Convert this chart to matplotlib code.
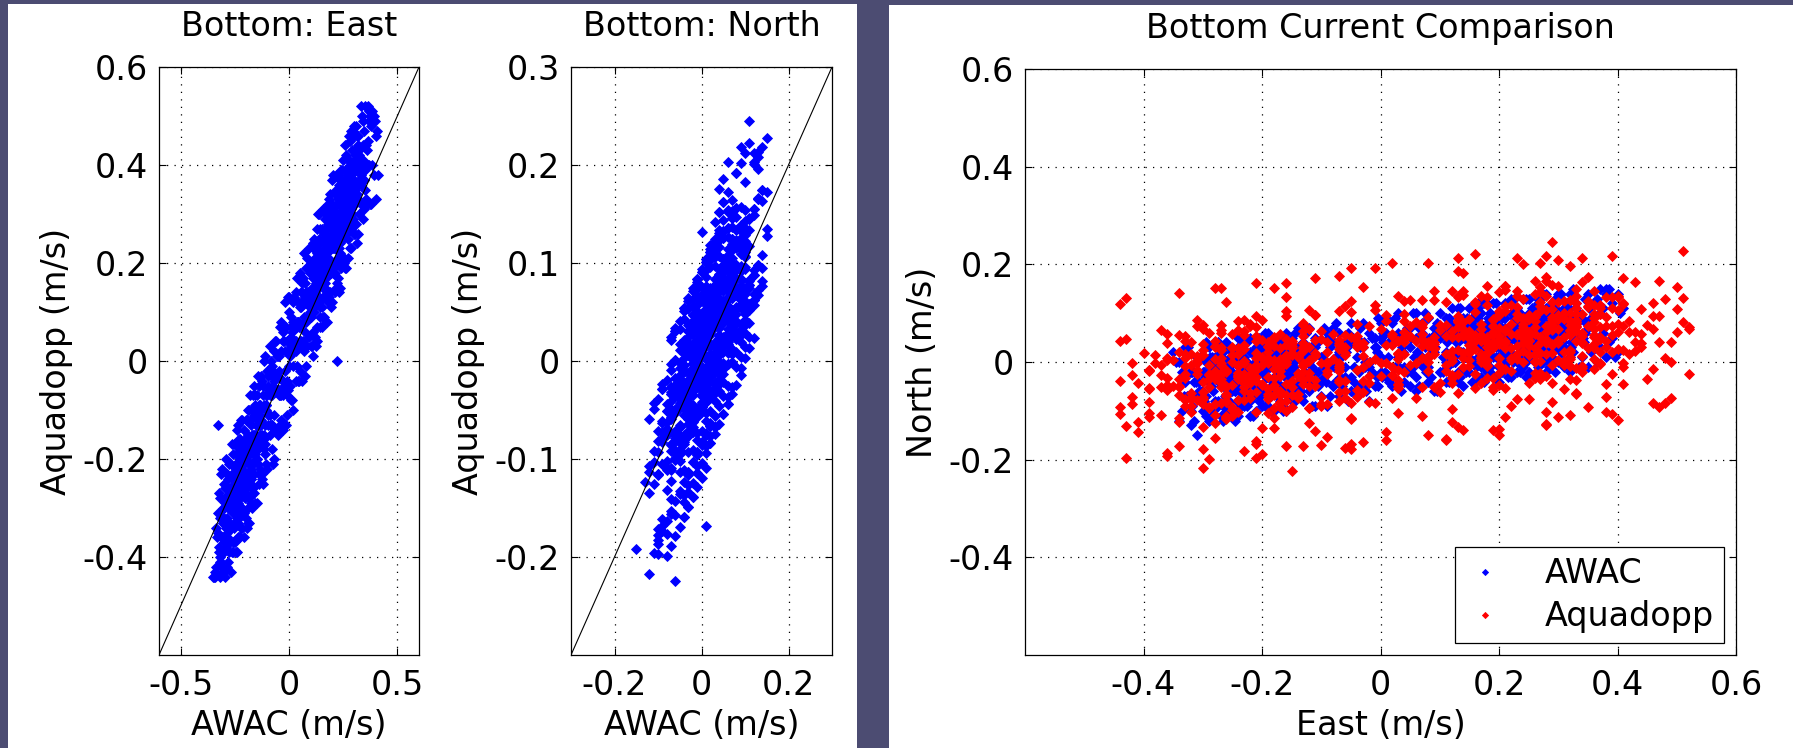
import matplotlib.pyplot as plt
from matplotlib.patches import Rectangle
from matplotlib.ticker import FormatStrFormatter

plt.rcParams['font.family'] = ['DejaVu Sans']
plt.rcParams['axes.unicode_minus'] = False

awac_east = [
    -0.35, -0.34, -0.34, -0.33, -0.33, -0.32, -0.32, -0.32, -0.31, -0.31,
    -0.31, -0.30, -0.30, -0.30, -0.29, -0.29, -0.29, -0.28, -0.28, -0.28,
    -0.28, -0.27, -0.27, -0.27, -0.27, -0.26, -0.26, -0.26, -0.26, -0.26,
    -0.25, -0.25, -0.25, -0.25, -0.24, -0.24, -0.24, -0.24, -0.24, -0.24,
    -0.23, -0.23, -0.23, -0.23, -0.23, -0.22, -0.22, -0.22, -0.22, -0.22,
    -0.22, -0.21, -0.21, -0.21, -0.21, -0.21, -0.20, -0.20, -0.20, -0.20,
    -0.20, -0.19, -0.19, -0.19, -0.19, -0.19, -0.18, -0.18, -0.18, -0.18,
    -0.17, -0.17, -0.17, -0.17, -0.17, -0.16, -0.16, -0.16, -0.16, -0.16,
    -0.15, -0.15, -0.15, -0.15, -0.15, -0.14, -0.14, -0.14, -0.14, -0.14,
    -0.13, -0.13, -0.13, -0.12, -0.12, -0.12, -0.12, -0.11, -0.11, -0.11,
    -0.11, -0.10, -0.10, -0.10, -0.09, -0.09, -0.09, -0.08, -0.08, -0.08,
    -0.08, -0.07, -0.07, -0.07, -0.06, -0.06, -0.06, -0.05, -0.05, -0.05,
    -0.05, -0.04, -0.04, -0.04, -0.03, -0.03, -0.03, -0.02, -0.02, -0.02,
    -0.01, -0.01, -0.01, 0.00, 0.00, 0.00, 0.00, 0.01, 0.01, 0.01,
    0.02, 0.02, 0.02, 0.02, 0.03, 0.03, 0.03, 0.03, 0.04, 0.04,
    0.04, 0.05, 0.05, 0.05, 0.06, 0.06, 0.06, 0.06, 0.07, 0.07,
    0.07, 0.08, 0.08, 0.08, 0.08, 0.09, 0.09, 0.09, 0.10, 0.10,
    0.10, 0.10, 0.11, 0.11, 0.11, 0.11, 0.11, 0.12, 0.12, 0.12,
    0.12, 0.13, 0.13, 0.13, 0.13, 0.13, 0.14, 0.14, 0.14, 0.14,
    0.15, 0.15, 0.15, 0.15, 0.15, 0.16, 0.16, 0.16, 0.16, 0.16,
    0.17, 0.17, 0.17, 0.17, 0.17, 0.18, 0.18, 0.18, 0.18, 0.18,
    0.19, 0.19, 0.19, 0.19, 0.19, 0.20, 0.20, 0.20, 0.20, 0.20,
    0.21, 0.21, 0.21, 0.21, 0.21, 0.22, 0.22, 0.22, 0.22, 0.22,
    0.23, 0.23, 0.23, 0.23, 0.23, 0.24, 0.24, 0.24, 0.24, 0.24,
    0.25, 0.25, 0.25, 0.25, 0.25, 0.26, 0.26, 0.26, 0.26, 0.26,
    0.27, 0.27, 0.27, 0.27, 0.27, 0.28, 0.28, 0.28, 0.28, 0.28,
    0.29, 0.29, 0.29, 0.29, 0.29, 0.30, 0.30, 0.30, 0.30, 0.30,
    0.31, 0.31, 0.31, 0.31, 0.32, 0.32, 0.32, 0.32, 0.33, 0.33,
    0.33, 0.34, 0.34, 0.34, 0.35, 0.35, 0.35, 0.36, 0.36, 0.37,
    0.37, 0.37, 0.38, 0.38, 0.38, 0.39, 0.39, 0.40, 0.40, 0.41,
    -0.345, -0.335, -0.335, -0.325, -0.325, -0.315, -0.315, -0.305, -0.305, -0.295,
    -0.295, -0.285, -0.285, -0.285, -0.275, -0.275, -0.275, -0.265, -0.265, -0.265,
    -0.255, -0.255, -0.255, -0.245, -0.245, -0.245, -0.245, -0.235, -0.235, -0.235,
    -0.235, -0.225, -0.225, -0.225, -0.225, -0.215, -0.215, -0.215, -0.215, -0.205,
    -0.205, -0.205, -0.195, -0.195, -0.195, -0.185, -0.185, -0.185, -0.175, -0.175,
    -0.175, -0.165, -0.165, -0.165, -0.155, -0.155, -0.155, -0.145, -0.145, -0.145,
    -0.135, -0.135, -0.125, -0.125, -0.125, -0.115, -0.115, -0.105, -0.105, -0.095,
    -0.095, -0.085, -0.085, -0.075, -0.075, -0.065, -0.065, -0.055, -0.055, -0.045,
    -0.045, -0.035, -0.035, -0.025, -0.025, -0.015, -0.015, -0.005, -0.005, 0.005,
    0.005, 0.015, 0.015, 0.025, 0.025, 0.035, 0.035, 0.045, 0.045, 0.055,
    0.055, 0.065, 0.065, 0.075, 0.075, 0.085, 0.085, 0.095, 0.095, 0.105,
    0.105, 0.115, 0.115, 0.115, 0.125, 0.125, 0.125, 0.135, 0.135, 0.135,
    0.145, 0.145, 0.145, 0.145, 0.155, 0.155, 0.155, 0.155, 0.155, 0.165,
    0.165, 0.165, 0.165, 0.175, 0.175, 0.175, 0.175, 0.175, 0.185, 0.185,
    0.185, 0.185, 0.185, 0.195, 0.195, 0.195, 0.195, 0.195, 0.205, 0.205,
    0.205, 0.205, 0.215, 0.215, 0.215, 0.215, 0.225, 0.225, 0.225, 0.225,
    0.235, 0.235, 0.235, 0.235, 0.245, 0.245, 0.245, 0.245, 0.255, 0.255,
    0.255, 0.255, 0.265, 0.265, 0.265, 0.265, 0.275, 0.275, 0.275, 0.275,
    0.285, 0.285, 0.285, 0.285, 0.295, 0.295, 0.295, 0.295, 0.305, 0.305,
    0.305, 0.315, 0.315, 0.315, 0.325, 0.325, 0.335, 0.335, 0.345, 0.345,
    0.355, 0.355, 0.365, 0.365, 0.375, 0.375, 0.385, 0.385, 0.395, 0.405,
    -0.315, -0.305, -0.295, -0.285, -0.275, -0.265, -0.255, -0.245, -0.235, -0.225,
    -0.215, -0.205, -0.195, -0.185, -0.175, -0.165, -0.155, -0.145, -0.135, -0.125,
    0.125, 0.145, 0.165, 0.185, 0.205, 0.225, 0.245, 0.265, 0.285, 0.305,
    -0.332, -0.322, -0.318, -0.312, -0.308, -0.302, -0.298, -0.292, -0.288, -0.282,
    -0.278, -0.272, -0.268, -0.262, -0.258, -0.252, -0.248, -0.242, -0.238, -0.232,
    -0.228, -0.222, -0.218, -0.212, -0.208, -0.202, -0.198, -0.192, -0.188, -0.182,
    -0.178, -0.172, -0.168, -0.162, -0.158, -0.152, -0.148, -0.142, -0.138, -0.132,
    -0.128, -0.118, -0.108, -0.098, -0.088, -0.078, -0.068, -0.058, -0.048, -0.038,
    -0.028, -0.018, -0.008, 0.002, 0.012, 0.022, 0.032, 0.042, 0.052, 0.062,
    0.072, 0.082, 0.092, 0.102, 0.108, 0.112, 0.118, 0.122, 0.128, 0.132,
    0.138, 0.142, 0.148, 0.152, 0.158, 0.162, 0.168, 0.172, 0.178, 0.182,
    0.188, 0.192, 0.198, 0.202, 0.208, 0.212, 0.218, 0.222, 0.228, 0.232,
    0.238, 0.242, 0.248, 0.252, 0.258, 0.262, 0.268, 0.272, 0.278, 0.282,
    0.288, 0.292, 0.298, 0.302, 0.308, 0.312, 0.318, 0.322, 0.332, 0.342,
    -0.318, -0.302, -0.288, -0.272, -0.258, -0.242, -0.228, -0.212, -0.198, -0.182,
    -0.268, -0.252, -0.238, -0.222, -0.208, -0.192, -0.178, -0.162, -0.148, -0.132,
    0.152, 0.168, 0.182, 0.198, 0.212, 0.228, 0.242, 0.258, 0.272, 0.288,
    0.118, 0.132, 0.148, 0.162, 0.178, 0.192, 0.208, 0.222, 0.238, 0.252,
    -0.298, -0.282, -0.268, -0.252, -0.238, -0.222, -0.208, -0.192, -0.178, -0.162,
    0.172, 0.188, 0.202, 0.218, 0.232, 0.248, 0.262, 0.278, 0.292, 0.308,
    -0.212, -0.198, -0.182, -0.168, -0.152, -0.138, -0.122, -0.108, -0.092, -0.078,
    0.008, 0.022, 0.038, 0.052, 0.068, 0.082, 0.098, 0.112, 0.128, 0.142,
    0.202, 0.218, 0.232, 0.248, 0.262, 0.278, 0.292, 0.308, 0.322, 0.352,
    -0.326, -0.314, -0.306, -0.294, -0.286, -0.274, -0.266, -0.254, -0.246, -0.234,
    -0.226, -0.214, -0.206, -0.194, -0.186, -0.174, -0.166, -0.154, -0.146, -0.134,
    -0.296, -0.276, -0.256, -0.236, -0.216, -0.196, -0.176, -0.156, -0.136, -0.116,
    -0.106, -0.086, -0.066, -0.046, -0.026, -0.006, 0.014, 0.034, 0.054, 0.074,
    0.094, 0.114, 0.134, 0.154, 0.174, 0.194, 0.214, 0.234, 0.254, 0.274,
    0.126, 0.146, 0.166, 0.186, 0.206, 0.226, 0.246, 0.266, 0.286, 0.306,
    0.136, 0.156, 0.176, 0.196, 0.216, 0.236, 0.256, 0.276, 0.296, 0.316,
    -0.284, -0.264, -0.244, -0.224, -0.204, -0.184, -0.164, -0.144, -0.124, -0.104,
    0.164, 0.184, 0.204, 0.224, 0.244, 0.264, 0.284, 0.304, 0.324, 0.344,
    -0.254, -0.236, -0.224, -0.206, -0.194, -0.176, -0.164, -0.146, -0.134, -0.116,
    0.106, 0.124, 0.144, 0.164, 0.184, 0.204, 0.224, 0.244, 0.264, 0.284,
    -0.066, -0.046, -0.026, -0.006, 0.016, 0.036, 0.056, 0.076, 0.096, 0.116,
    -0.306, -0.284, -0.264, -0.244, -0.224, -0.204, -0.184, -0.164, -0.144, -0.124,
    0.186, 0.204, 0.226, 0.244, 0.266, 0.284, 0.306, 0.324, 0.346, 0.366,
    -0.214, -0.196, -0.176, -0.156, -0.136, -0.116, -0.096, -0.076, -0.056, -0.036,
]
aqua_east = [
    -0.44, -0.43, -0.44, -0.13, -0.31, -0.44, -0.28, -0.41, -0.22, -0.36,
    -0.42, -0.30, -0.43, -0.25, -0.34, -0.20, -0.38, -0.30, -0.41, -0.24,
    -0.26, -0.34, -0.21, -0.43, -0.27, -0.37, -0.19, -0.30, -0.23, -0.39,
    -0.26, -0.37, -0.17, -0.31, -0.21, -0.39, -0.19, -0.32, -0.14, -0.28,
    -0.32, -0.21, -0.36, -0.16, -0.27, -0.12, -0.30, -0.23, -0.34, -0.17,
    -0.19, -0.27, -0.14, -0.36, -0.20, -0.31, -0.12, -0.23, -0.16, -0.32,
    -0.20, -0.30, -0.10, -0.24, -0.15, -0.33, -0.12, -0.25, -0.07, -0.21,
    -0.26, -0.15, -0.30, -0.10, -0.21, -0.05, -0.23, -0.16, -0.27, -0.10,
    -0.11, -0.20, -0.07, -0.29, -0.13, -0.23, -0.05, -0.16, -0.09, -0.25,
    -0.12, -0.23, -0.03, -0.16, -0.07, -0.25, -0.05, -0.17, 0.01, -0.13,
    -0.19, -0.07, -0.22, -0.02, -0.11, 0.03, -0.15, -0.07, -0.18, -0.01,
    -0.03, -0.11, 0.02, -0.20, -0.03, -0.14, 0.04, -0.06, 0.01, -0.15,
    -0.03, -0.13, 0.07, -0.07, 0.04, -0.14, 0.06, -0.06, 0.12, -0.02,
    -0.07, 0.04, -0.11, 0.10, -0.01, 0.13, -0.05, 0.03, -0.08, 0.09,
    0.08, -0.01, 0.12, -0.10, 0.07, -0.04, 0.14, 0.03, 0.12, -0.04,
    0.08, -0.02, 0.18, 0.04, 0.14, -0.04, 0.16, 0.03, 0.22, 0.08,
    0.02, 0.14, -0.01, 0.19, 0.08, 0.23, 0.05, 0.12, 0.03, 0.20,
    0.18, 0.09, 0.23, 0.01, 0.17, 0.06, 0.24, 0.14, 0.21, 0.05,
    0.17, 0.07, 0.27, 0.13, 0.22, 0.04, 0.25, 0.12, 0.30, 0.16,
    0.11, 0.22, 0.07, 0.27, 0.16, 0.31, 0.13, 0.20, 0.09, 0.26,
    0.26, 0.17, 0.30, 0.08, 0.24, 0.14, 0.32, 0.21, 0.28, 0.12,
    0.25, 0.14, 0.34, 0.20, 0.29, 0.12, 0.32, 0.19, 0.37, 0.23,
    0.18, 0.29, 0.14, 0.34, 0.23, 0.38, 0.20, 0.27, 0.16, 0.00,
    0.32, 0.23, 0.36, 0.14, 0.30, 0.21, 0.39, 0.28, 0.35, 0.19,
    0.32, 0.21, 0.41, 0.27, 0.36, 0.19, 0.39, 0.26, 0.44, 0.30,
    0.25, 0.36, 0.21, 0.41, 0.30, 0.45, 0.27, 0.34, 0.23, 0.40,
    0.39, 0.30, 0.43, 0.29, 0.37, 0.28, 0.46, 0.35, 0.48, 0.26,
    0.39, 0.28, 0.48, 0.34, 0.44, 0.26, 0.46, 0.33, 0.52, 0.38,
    0.32, 0.44, 0.29, 0.49, 0.39, 0.52, 0.35, 0.43, 0.32, 0.51,
    0.49, 0.40, 0.51, 0.32, 0.48, 0.38, 0.50, 0.46, 0.33, 0.38,
    -0.44, -0.34, -0.42, -0.27, -0.38, -0.23, -0.41, -0.33, -0.43, -0.26,
    -0.28, -0.36, -0.23, -0.42, -0.28, -0.39, -0.21, -0.30, -0.23, -0.39,
    -0.26, -0.37, -0.17, -0.30, -0.21, -0.39, -0.19, -0.31, -0.13, -0.27,
    -0.33, -0.21, -0.36, -0.16, -0.27, -0.12, -0.30, -0.23, -0.34, -0.16,
    -0.18, -0.27, -0.12, -0.34, -0.18, -0.28, -0.10, -0.21, -0.13, -0.29,
    -0.17, -0.27, -0.07, -0.21, -0.11, -0.29, -0.09, -0.21, -0.03, -0.17,
    -0.22, -0.11, -0.24, -0.04, -0.15, 0.00, -0.18, -0.10, -0.21, -0.03,
    -0.05, -0.13, 0.00, -0.21, -0.05, -0.14, 0.04, -0.06, 0.01, -0.14,
    -0.02, -0.12, 0.08, -0.05, 0.04, -0.13, 0.07, -0.05, 0.13, 0.01,
    -0.05, 0.07, -0.08, 0.13, 0.02, 0.17, -0.01, 0.07, -0.04, 0.14,
    0.12, 0.04, 0.17, -0.03, 0.13, 0.03, 0.21, 0.11, 0.18, 0.03,
    0.15, 0.05, 0.25, 0.11, 0.21, 0.03, 0.23, 0.12, 0.30, 0.16,
    0.11, 0.22, 0.07, 0.27, 0.17, 0.31, 0.13, 0.20, 0.09, 0.27,
    0.25, 0.16, 0.29, 0.08, 0.24, 0.13, 0.31, 0.20, 0.28, 0.12,
    0.24, 0.13, 0.33, 0.20, 0.29, 0.11, 0.31, 0.18, 0.38, 0.24,
    0.18, 0.29, 0.15, 0.35, 0.24, 0.38, 0.21, 0.28, 0.17, 0.34,
    0.33, 0.24, 0.37, 0.15, 0.32, 0.21, 0.39, 0.28, 0.36, 0.20,
    0.32, 0.21, 0.42, 0.28, 0.37, 0.19, 0.41, 0.28, 0.46, 0.32,
    0.27, 0.38, 0.23, 0.28, 0.33, 0.47, 0.29, 0.36, 0.26, 0.43,
    0.41, 0.33, 0.46, 0.24, 0.41, 0.30, 0.50, 0.39, 0.47, 0.31,
    0.44, 0.33, 0.52, 0.40, 0.50, 0.32, 0.51, 0.40, 0.49, 0.47,
    -0.42, -0.30, -0.44, -0.23, -0.33, -0.17, -0.34, -0.26, -0.36, -0.18,
    -0.19, -0.27, -0.12, -0.33, -0.16, -0.26, -0.07, -0.17, -0.09, -0.23,
    0.17, 0.09, 0.31, 0.19, 0.31, 0.15, 0.37, 0.26, 0.47, 0.35,
    -0.36, -0.39, -0.32, -0.36, -0.32, -0.39, -0.30, -0.33, -0.34, -0.26,
    -0.33, -0.27, -0.34, -0.28, -0.24, -0.29, -0.31, -0.25, -0.22, -0.31,
    -0.22, -0.26, -0.22, -0.27, -0.23, -0.18, -0.24, -0.16, -0.24, -0.19,
    -0.23, -0.17, -0.18, -0.15, -0.19, -0.15, -0.11, -0.18, -0.13, -0.15,
    -0.13, -0.16, -0.07, -0.11, -0.07, -0.13, -0.04, -0.06, -0.07, 0.02,
    -0.04, 0.02, -0.04, 0.02, 0.07, 0.03, 0.02, 0.08, 0.11, 0.03,
    0.12, 0.09, 0.14, 0.09, 0.13, 0.18, 0.13, 0.20, 0.13, 0.17,
    0.13, 0.19, 0.18, 0.21, 0.17, 0.21, 0.25, 0.18, 0.23, 0.21,
    0.24, 0.20, 0.28, 0.23, 0.27, 0.20, 0.29, 0.27, 0.25, 0.33,
    0.26, 0.32, 0.26, 0.31, 0.36, 0.30, 0.29, 0.34, 0.37, 0.28,
    0.37, 0.34, 0.37, 0.32, 0.36, 0.41, 0.36, 0.43, 0.36, 0.41,
    -0.40, -0.32, -0.32, -0.27, -0.31, -0.26, -0.20, -0.26, -0.20, -0.21,
    -0.29, -0.31, -0.22, -0.26, -0.21, -0.26, -0.16, -0.18, -0.18, -0.09,
    0.16, 0.23, 0.18, 0.25, 0.30, 0.26, 0.26, 0.33, 0.36, 0.29,
    0.18, 0.15, 0.20, 0.16, 0.21, 0.27, 0.23, 0.32, 0.25, 0.31,
    -0.37, -0.29, -0.30, -0.25, -0.28, -0.24, -0.18, -0.24, -0.17, -0.19,
    0.22, 0.20, 0.28, 0.25, 0.30, 0.25, 0.34, 0.33, 0.33, 0.41,
    -0.25, -0.19, -0.24, -0.17, -0.11, -0.16, -0.16, -0.09, -0.06, -0.13,
    0.05, 0.03, 0.07, 0.03, 0.09, 0.14, 0.10, 0.19, 0.13, 0.18,
    0.20, 0.28, 0.28, 0.33, 0.29, 0.34, 0.40, 0.33, 0.40, 0.40,
    -0.35, -0.39, -0.33, -0.28, -0.34, -0.37, -0.27, -0.29, -0.23, -0.29,
    -0.28, -0.23, -0.17, -0.23, -0.17, -0.24, -0.18, -0.13, -0.20, -0.12,
    -0.29, -0.33, -0.33, -0.24, -0.24, -0.19, -0.22, -0.11, -0.16, -0.16,
    -0.09, -0.13, -0.06, 0.01, -0.04, -0.06, 0.06, 0.04, 0.11, 0.06,
    0.09, 0.15, 0.22, 0.17, 0.24, 0.18, 0.26, 0.32, 0.26, 0.35,
    0.19, 0.16, 0.15, 0.24, 0.25, 0.30, 0.26, 0.38, 0.33, 0.32,
    0.19, 0.15, 0.22, 0.29, 0.24, 0.22, 0.33, 0.32, 0.39, 0.34,
    -0.35, -0.28, -0.21, -0.27, -0.19, -0.25, -0.18, -0.12, -0.17, -0.09,
    0.24, 0.20, 0.19, 0.29, 0.29, 0.34, 0.31, 0.42, 0.37, 0.37,
    -0.26, -0.30, -0.24, -0.18, -0.23, -0.25, -0.15, -0.17, -0.10, -0.15,
    0.10, 0.16, 0.24, 0.18, 0.25, 0.19, 0.27, 0.33, 0.27, 0.36,
    -0.03, -0.06, -0.07, 0.02, 0.03, 0.08, 0.04, 0.16, 0.11, 0.10,
    -0.32, -0.36, -0.28, -0.22, -0.27, -0.28, -0.17, -0.19, -0.12, -0.16,
    0.19, 0.25, 0.33, 0.27, 0.35, 0.29, 0.36, 0.42, 0.37, 0.45,
    -0.20, -0.24, -0.24, -0.15, -0.15, -0.09, -0.13, -0.02, -0.06, -0.07,
]
awac_north = [
    0.02, 0.00, -0.12, -0.04, 0.03, -0.10, -0.02, -0.13, 0.01, -0.15,
    0.00, -0.10, -0.02, -0.07, 0.03, -0.12, -0.04, 0.01, -0.08, 0.04,
    -0.09, -0.02, 0.02, -0.11, -0.05, 0.00, -0.07, 0.04, -0.10, -0.01,
    -0.06, 0.02, -0.10, -0.02, 0.05, -0.08, 0.00, -0.11, 0.03, -0.04,
    0.01, -0.09, -0.01, -0.06, 0.04, -0.11, -0.03, 0.02, -0.07, 0.05,
    -0.08, -0.01, 0.03, -0.10, -0.04, 0.01, -0.06, 0.05, -0.09, 0.00,
    -0.05, 0.03, -0.09, -0.01, 0.06, -0.07, 0.01, -0.10, 0.04, -0.03,
    0.02, -0.08, 0.00, -0.05, 0.05, -0.10, -0.02, 0.03, -0.06, 0.06,
    -0.06, 0.01, 0.05, -0.08, -0.02, 0.03, -0.04, 0.07, -0.07, 0.02,
    -0.04, 0.04, -0.08, 0.00, 0.07, -0.06, 0.02, -0.09, 0.05, -0.02,
    0.03, -0.07, 0.01, -0.04, 0.06, -0.09, -0.01, 0.04, -0.05, 0.07,
    -0.05, 0.02, 0.06, -0.07, -0.01, 0.04, -0.03, 0.08, -0.06, -0.06,
    -0.03, 0.05, -0.07, 0.01, 0.08, -0.05, 0.03, -0.08, 0.06, -0.01,
    0.05, -0.05, 0.03, -0.02, 0.08, 0.05, 0.01, 0.06, -0.03, 0.09,
    -0.03, 0.04, 0.08, -0.05, 0.01, 0.06, -0.01, 0.10, -0.04, 0.05,
    -0.01, 0.07, -0.05, 0.03, 0.10, -0.03, 0.05, -0.06, 0.08, 0.01,
    0.06, -0.04, 0.04, -0.01, 0.09, -0.06, 0.02, 0.07, -0.02, 0.10,
    -0.02, 0.05, 0.09, -0.04, 0.02, 0.07, 0.00, 0.11, -0.03, 0.06,
    0.00, 0.08, -0.04, 0.04, 0.11, -0.02, 0.06, -0.05, 0.09, 0.02,
    0.08, -0.02, 0.06, 0.01, 0.11, -0.04, 0.04, 0.09, 0.00, 0.12,
    -0.01, 0.06, 0.10, -0.03, 0.03, 0.08, 0.01, 0.12, -0.02, 0.07,
    0.01, 0.09, -0.03, 0.05, 0.12, -0.01, 0.07, -0.04, 0.10, 0.03,
    0.09, -0.01, 0.07, 0.02, 0.12, -0.03, 0.05, 0.10, 0.01, 0.13,
    0.00, 0.07, 0.11, -0.02, 0.04, 0.09, 0.02, 0.13, -0.01, 0.08,
    0.02, 0.10, -0.02, 0.06, 0.13, 0.00, 0.08, -0.03, 0.11, 0.04,
    0.10, 0.00, 0.08, 0.03, 0.13, -0.02, 0.06, 0.11, 0.02, 0.14,
    0.01, 0.08, 0.12, 0.11, 0.05, 0.10, 0.03, 0.14, 0.00, 0.09,
    0.03, 0.11, -0.01, 0.07, 0.14, 0.01, 0.09, -0.02, 0.12, 0.05,
    0.11, 0.01, 0.09, 0.04, 0.14, -0.01, 0.07, 0.12, 0.03, 0.15,
    0.03, 0.10, 0.14, 0.01, 0.15, 0.12, 0.05, 0.14, 0.02, 0.11,
    0.00, -0.10, -0.02, -0.07, 0.03, -0.12, -0.04, 0.01, -0.08, 0.04,
    -0.07, 0.01, -0.11, -0.03, 0.04, -0.09, -0.01, -0.12, 0.02, -0.05,
    -0.08, -0.01, 0.03, -0.10, -0.04, 0.01, -0.06, 0.05, -0.09, 0.00,
    0.01, -0.09, -0.01, -0.06, 0.04, -0.11, -0.03, 0.02, -0.07, 0.05,
    -0.05, 0.03, -0.09, -0.01, 0.06, -0.07, 0.01, -0.10, 0.04, -0.03,
    -0.07, 0.00, 0.04, -0.09, -0.03, 0.02, -0.05, 0.06, -0.08, 0.01,
    0.03, -0.07, 0.01, -0.04, 0.06, -0.09, -0.01, 0.04, -0.05, 0.07,
    -0.03, 0.05, -0.07, 0.01, 0.08, -0.05, 0.03, -0.08, 0.06, -0.01,
    -0.04, 0.03, 0.07, -0.06, 0.00, 0.05, -0.02, 0.09, -0.05, 0.04,
    0.06, -0.04, 0.04, -0.01, 0.09, -0.06, 0.02, 0.07, -0.02, 0.10,
    -0.01, 0.07, -0.05, 0.03, 0.10, -0.03, 0.05, -0.06, 0.08, 0.01,
    -0.02, 0.05, 0.09, -0.04, 0.02, 0.07, 0.00, 0.11, -0.03, 0.06,
    0.08, -0.02, 0.06, 0.01, 0.11, -0.04, 0.04, 0.09, 0.00, 0.12,
    0.01, 0.09, -0.03, 0.05, 0.12, -0.01, 0.07, -0.04, 0.10, 0.03,
    -0.01, 0.06, 0.10, -0.03, 0.03, 0.08, 0.01, 0.12, -0.02, 0.07,
    0.09, -0.01, 0.07, 0.02, 0.12, -0.03, 0.05, 0.10, 0.01, 0.13,
    0.02, 0.10, -0.02, 0.06, 0.13, 0.00, 0.08, -0.03, 0.11, 0.04,
    0.01, 0.08, 0.12, -0.01, 0.05, 0.10, 0.03, 0.14, 0.00, 0.09,
    0.10, 0.00, 0.08, 0.09, 0.13, -0.02, 0.06, 0.11, 0.02, 0.14,
    0.04, 0.12, 0.00, 0.08, 0.15, 0.02, 0.10, -0.01, 0.13, 0.06,
    0.02, 0.09, 0.13, 0.00, 0.06, 0.11, 0.04, 0.15, 0.01, 0.10,
    -0.07, 0.01, -0.11, -0.03, 0.04, -0.09, -0.01, -0.12, 0.02, -0.05,
    0.02, -0.08, 0.00, -0.05, 0.05, -0.10, -0.02, 0.03, -0.06, 0.06,
    0.00, 0.07, 0.11, -0.02, 0.04, 0.09, 0.02, 0.13, -0.01, 0.08,
    -0.07, -0.02, -0.09, -0.04, 0.00, -0.06, -0.08, -0.03, -0.01, -0.10,
    0.00, -0.04, -0.01, -0.07, -0.03, 0.01, -0.05, 0.02, -0.06, -0.02,
    -0.07, -0.01, -0.03, 0.00, -0.05, -0.02, 0.02, -0.06, -0.01, -0.04,
    -0.01, -0.05, 0.02, -0.03, 0.00, -0.07, 0.01, -0.02, -0.04, 0.03,
    -0.02, 0.03, -0.04, 0.01, 0.05, -0.01, -0.03, 0.02, 0.04, -0.05,
    0.04, 0.00, 0.03, -0.03, 0.01, 0.05, -0.01, 0.06, -0.02, 0.02,
    -0.01, 0.05, 0.03, 0.06, 0.01, 0.04, 0.08, 0.00, 0.05, 0.02,
    0.05, 0.01, 0.08, 0.03, 0.06, -0.01, 0.07, 0.04, 0.02, 0.09,
    0.03, 0.08, 0.01, 0.06, 0.10, 0.04, 0.02, 0.07, 0.09, 0.00,
    0.08, 0.04, 0.07, 0.01, 0.05, 0.09, 0.03, 0.10, 0.02, 0.06,
    0.02, 0.08, 0.06, 0.09, 0.04, 0.07, 0.11, 0.03, 0.08, 0.05,
    -0.02, -0.06, 0.01, -0.04, -0.01, -0.08, 0.00, -0.03, -0.05, 0.02,
    -0.04, 0.01, -0.06, -0.01, 0.03, -0.03, -0.05, 0.00, 0.02, -0.07,
    0.08, 0.04, 0.07, 0.01, 0.05, 0.09, 0.03, 0.10, 0.02, 0.06,
    0.00, 0.06, 0.04, 0.07, 0.02, 0.05, 0.09, 0.01, 0.06, 0.03,
    -0.02, -0.06, 0.01, -0.04, -0.01, -0.08, 0.00, -0.03, -0.05, 0.02,
    0.03, 0.08, 0.01, 0.06, 0.10, 0.04, 0.02, 0.07, 0.09, 0.00,
    0.02, -0.02, 0.01, -0.05, -0.01, 0.03, -0.03, 0.04, -0.04, 0.00,
    -0.02, 0.04, 0.02, 0.05, 0.00, 0.03, 0.07, -0.01, 0.04, 0.01,
    0.07, 0.03, 0.10, 0.05, 0.08, 0.01, 0.09, 0.06, 0.04, 0.11,
    -0.07, -0.02, -0.04, 0.00, -0.05, -0.08, -0.01, -0.03, -0.06, -0.01,
    0.00, -0.05, 0.02, -0.03, -0.01, 0.01, -0.06, -0.02, 0.00, -0.04,
    -0.03, 0.01, -0.05, -0.02, -0.07, -0.01, -0.03, -0.06, 0.01, -0.04,
    -0.02, 0.03, 0.01, 0.05, 0.00, -0.03, 0.04, 0.02, -0.01, 0.04,
    0.06, 0.01, 0.08, 0.03, 0.05, 0.07, 0.00, 0.04, 0.06, 0.02,
    0.05, 0.09, 0.03, 0.06, 0.01, 0.07, 0.05, 0.02, 0.09, 0.04,
    0.02, 0.07, 0.05, 0.09, 0.04, 0.01, 0.08, 0.06, 0.03, 0.08,
    0.00, -0.05, 0.02, -0.03, -0.01, 0.01, -0.06, -0.02, 0.00, -0.04,
    0.05, 0.09, 0.03, 0.06, 0.01, 0.07, 0.05, 0.02, 0.09, 0.04,
    -0.05, 0.00, -0.02, 0.02, -0.03, -0.06, 0.01, -0.01, -0.04, 0.01,
    0.06, 0.01, 0.08, 0.03, 0.05, 0.07, 0.00, 0.04, 0.06, 0.02,
    0.01, 0.05, -0.01, 0.02, -0.03, 0.03, 0.01, -0.02, 0.05, 0.00,
    -0.06, -0.01, -0.03, 0.01, -0.04, -0.07, 0.00, -0.02, -0.05, 0.00,
    0.08, 0.03, 0.10, 0.05, 0.07, 0.09, 0.02, 0.06, 0.08, 0.04,
    -0.01, 0.03, -0.03, 0.00, -0.05, 0.01, -0.01, -0.04, 0.03, -0.02,
]
aqua_north = [
    0.118, 0.132, -0.107, 0.054, -0.002, -0.039, -0.124, -0.123, -0.042, -0.192,
    -0.086, -0.071, 0.047, -0.111, 0.142, -0.135, 0.014, -0.087, -0.044, -0.023,
    -0.079, 0.056, -0.038, -0.196, -0.002, -0.027, 0.021, 0.075, -0.183, -0.016,
    -0.017, -0.051, -0.082, 0.074, 0.018, -0.019, -0.104, -0.103, -0.022, 0.043,
    -0.076, -0.061, 0.057, -0.101, 0.152, -0.125, 0.024, -0.077, -0.034, -0.013,
    -0.069, 0.066, -0.028, -0.187, 0.008, -0.017, 0.031, 0.085, -0.173, -0.006,
    -0.007, -0.041, -0.072, 0.084, 0.028, -0.009, -0.094, -0.093, -0.012, 0.053,
    -0.066, -0.051, 0.067, -0.091, 0.162, -0.115, 0.034, -0.067, -0.024, -0.003,
    -0.049, 0.086, -0.008, -0.199, 0.028, 0.003, 0.051, 0.105, -0.153, 0.014,
    0.003, -0.031, -0.062, 0.094, 0.038, 0.001, -0.084, -0.083, -0.002, 0.063,
    -0.056, -0.041, 0.077, -0.081, 0.172, -0.105, 0.044, 0.176, -0.014, 0.007,
    -0.039, 0.096, 0.203, -0.189, 0.038, 0.013, 0.061, 0.115, -0.143, -0.224,
    0.013, -0.021, -0.052, 0.104, 0.048, 0.011, -0.074, -0.073, 0.008, 0.073,
    -0.036, -0.021, 0.097, -0.061, 0.192, 0.186, -0.168, -0.037, 0.006, 0.027,
    -0.019, 0.116, 0.022, -0.169, 0.058, 0.033, 0.081, 0.135, -0.123, 0.044,
    0.033, -0.001, -0.032, 0.124, 0.068, 0.031, -0.054, -0.053, 0.028, 0.093,
    -0.026, -0.011, 0.107, -0.051, 0.202, -0.075, 0.074, -0.027, 0.016, 0.037,
    -0.009, 0.126, 0.032, -0.159, 0.068, 0.043, 0.091, 0.145, -0.113, 0.054,
    0.043, 0.009, -0.022, 0.134, 0.078, 0.041, -0.044, -0.043, 0.038, 0.103,
    -0.006, 0.009, 0.127, -0.031, 0.222, -0.055, 0.094, -0.007, 0.036, 0.057,
    0.001, 0.136, 0.042, -0.149, 0.078, 0.053, 0.101, 0.155, -0.103, 0.064,
    0.053, 0.019, -0.012, 0.144, 0.088, 0.051, -0.034, -0.033, 0.048, 0.113,
    0.004, 0.019, 0.137, -0.021, 0.212, -0.045, 0.104, 0.003, 0.046, 0.067,
    0.011, 0.146, 0.052, -0.139, 0.088, 0.063, 0.111, 0.165, -0.093, 0.074,
    0.063, 0.029, -0.002, 0.154, 0.098, 0.061, -0.024, -0.023, 0.058, 0.123,
    0.014, 0.029, 0.147, -0.011, 0.208, -0.035, 0.114, 0.013, 0.056, 0.077,
    0.021, 0.156, 0.062, 0.245, 0.098, 0.073, 0.121, 0.175, -0.083, 0.084,
    0.073, 0.039, 0.008, 0.164, 0.108, 0.071, -0.014, -0.013, 0.068, 0.133,
    0.024, 0.039, 0.157, -0.001, 0.218, -0.025, 0.124, 0.023, 0.066, 0.228,
    0.041, 0.106, 0.082, -0.109, 0.128, 0.093, 0.061, 0.095, -0.063, 0.074,
    0.043, -0.171, -0.002, 0.024, -0.002, -0.059, -0.144, 0.017, -0.132, 0.123,
    -0.156, 0.039, -0.043, -0.071, 0.152, -0.105, 0.044, -0.217, 0.056, -0.113,
    -0.069, 0.066, -0.028, -0.178, 0.008, -0.017, 0.031, 0.085, -0.173, -0.006,
    0.053, -0.161, 0.008, 0.034, 0.008, -0.049, -0.134, 0.027, -0.122, 0.133,
    -0.136, 0.059, -0.023, -0.051, 0.152, -0.085, 0.064, -0.197, 0.076, -0.093,
    -0.059, 0.076, -0.018, -0.168, 0.018, -0.007, 0.041, 0.095, -0.163, 0.004,
    0.073, -0.141, 0.028, 0.054, 0.028, -0.029, -0.114, 0.047, -0.102, 0.153,
    -0.116, 0.079, -0.003, -0.031, 0.192, -0.065, 0.084, -0.177, 0.096, -0.073,
    -0.029, 0.106, 0.012, -0.179, 0.048, 0.023, 0.071, 0.125, -0.133, 0.034,
    0.103, -0.111, 0.058, 0.084, 0.058, 0.001, -0.084, 0.077, -0.072, 0.183,
    -0.096, 0.099, 0.017, -0.011, 0.212, -0.045, 0.104, -0.157, 0.116, -0.053,
    -0.009, 0.126, 0.032, -0.159, 0.068, 0.043, 0.091, 0.145, -0.113, 0.054,
    0.123, -0.091, 0.078, 0.104, 0.078, 0.021, -0.064, 0.097, -0.052, 0.203,
    -0.076, 0.119, 0.037, 0.009, 0.201, -0.025, 0.124, -0.137, 0.136, -0.033,
    0.001, 0.136, 0.042, -0.149, 0.078, 0.053, 0.101, 0.155, -0.103, 0.064,
    0.133, -0.081, 0.088, 0.114, 0.088, 0.031, -0.054, 0.107, -0.042, 0.213,
    -0.066, 0.129, 0.047, 0.019, 0.196, -0.015, 0.134, -0.127, 0.146, -0.023,
    0.021, 0.156, 0.062, -0.129, 0.098, 0.073, 0.121, 0.175, -0.083, 0.084,
    0.143, -0.071, 0.098, 0.218, 0.098, 0.041, -0.044, 0.117, -0.032, 0.163,
    -0.046, 0.149, 0.067, 0.039, 0.172, 0.005, 0.154, -0.107, 0.166, -0.003,
    0.031, 0.136, 0.072, -0.119, 0.108, 0.083, 0.131, 0.135, -0.073, 0.094,
    -0.027, -0.061, -0.092, 0.064, 0.008, -0.029, -0.114, -0.113, -0.032, 0.033,
    -0.066, -0.051, 0.067, -0.091, 0.162, -0.115, 0.034, -0.067, -0.024, -0.003,
    0.011, 0.146, 0.052, -0.139, 0.088, 0.063, 0.111, 0.165, -0.093, 0.074,
    -0.057, -0.054, -0.063, -0.048, 0.041, -0.082, -0.075, -0.077, 0.021, -0.116,
    -0.025, -0.022, -0.049, -0.034, -0.034, 0.059, -0.078, 0.031, -0.073, 0.004,
    -0.032, -0.021, -0.024, -0.043, -0.028, -0.051, 0.065, -0.079, -0.008, -0.076,
    0.003, -0.084, 0.047, -0.038, 0.041, -0.092, 0.015, -0.067, -0.009, 0.014,
    -0.045, 0.048, -0.079, 0.046, 0.046, 0.039, -0.058, 0.031, 0.027, -0.026,
    0.078, -0.011, 0.036, -0.073, 0.032, 0.019, 0.035, 0.041, -0.018, -0.016,
    0.003, 0.016, 0.057, 0.052, 0.051, 0.018, 0.085, -0.047, 0.081, 0.004,
    0.025, 0.028, 0.041, 0.066, 0.056, 0.039, 0.042, 0.051, 0.007, 0.114,
    0.068, 0.069, 0.016, 0.017, 0.122, 0.009, 0.065, 0.051, 0.092, -0.036,
    0.093, 0.006, 0.097, 0.002, 0.091, 0.068, 0.035, 0.053, 0.051, 0.044,
    -0.005, 0.098, 0.021, 0.126, 0.036, 0.119, 0.082, 0.041, 0.067, 0.074,
    0.018, -0.071, 0.016, -0.083, 0.012, -0.111, 0.045, -0.049, -0.048, -0.016,
    -0.027, -0.024, -0.033, -0.018, 0.071, -0.052, -0.045, -0.047, 0.051, -0.086,
    0.055, 0.058, 0.031, 0.046, 0.046, 0.139, 0.002, 0.111, 0.007, 0.084,
    0.038, 0.049, 0.046, 0.027, 0.042, 0.019, 0.135, -0.009, 0.062, -0.006,
    -0.007, -0.094, 0.037, -0.048, 0.031, -0.102, 0.005, -0.077, -0.019, 0.004,
    0.005, 0.098, -0.029, 0.096, 0.096, 0.089, -0.008, 0.081, 0.077, 0.024,
    0.058, -0.031, 0.016, -0.093, 0.012, -0.001, 0.015, 0.021, -0.038, -0.036,
    -0.007, 0.006, 0.047, 0.042, 0.041, 0.008, 0.075, -0.057, 0.071, -0.006,
    0.045, 0.048, 0.061, 0.086, 0.076, 0.059, 0.062, 0.071, 0.027, 0.134,
    -0.049, -0.056, -0.032, 0.033, -0.067, -0.109, 0.031, -0.034, -0.034, -0.052,
    -0.031, -0.036, 0.057, -0.052, -0.004, -0.029, -0.032, -0.003, -0.045, -0.031,
    -0.025, 0.042, -0.076, -0.031, -0.027, 0.009, -0.064, -0.036, 0.002, -0.004,
    0.001, -0.006, 0.018, 0.083, -0.017, -0.059, 0.081, 0.016, 0.016, -0.002,
    0.029, 0.024, 0.117, 0.008, 0.056, 0.031, 0.028, 0.057, 0.015, 0.029,
    0.055, 0.122, 0.004, 0.049, 0.053, 0.089, 0.016, 0.044, 0.082, 0.076,
    0.041, 0.034, 0.058, 0.123, 0.023, -0.019, 0.121, 0.056, 0.056, 0.038,
    0.005, -0.018, -0.006, -0.041, 0.033, 0.029, -0.094, 0.004, -0.008, -0.004,
    0.071, 0.054, 0.038, 0.093, -0.007, 0.041, 0.091, 0.016, 0.116, -0.002,
    -0.081, 0.014, 0.017, -0.002, -0.024, -0.099, 0.038, 0.007, -0.085, 0.019,
    0.065, 0.042, 0.054, 0.019, 0.093, 0.089, -0.034, 0.064, 0.052, 0.056,
    0.031, 0.014, -0.002, 0.053, -0.047, 0.001, 0.051, -0.024, 0.076, -0.042,
    -0.091, 0.004, 0.007, -0.012, -0.034, -0.109, 0.028, -0.003, -0.095, 0.009,
    0.085, 0.062, 0.074, 0.039, 0.113, 0.109, -0.014, 0.084, 0.072, 0.076,
    0.011, -0.006, -0.022, 0.033, -0.067, -0.019, 0.031, -0.044, 0.056, -0.062,
]

east_ticks = [-0.5, 0, 0.5]
speed_ticks = [-0.4, -0.2, 0, 0.2, 0.4, 0.6]
north_x_ticks = [-0.2, 0, 0.2]
north_y_ticks = [-0.2, -0.1, 0, 0.1, 0.2, 0.3]
comp_x_ticks = [-0.4, -0.2, 0, 0.2, 0.4, 0.6]

bg = '#4c4c72'
W, H = 1793, 748

fig = plt.figure(figsize=(W / 100, H / 100), dpi=100, facecolor=bg)

# the two white panels
fig.add_artist(Rectangle((8 / W, 0), (857 - 8) / W, (H - 4) / H, transform=fig.transFigure,
                         facecolor='white', edgecolor='none', zorder=-5))
fig.add_artist(Rectangle((889 / W, 0), (W - 889) / W, (H - 5) / H, transform=fig.transFigure,
                         facecolor='white', edgecolor='none', zorder=-5))


def px_axes(x0, x1, y0, y1):
    return fig.add_axes([x0 / W, (H - y1) / H, (x1 - x0) / W, (y1 - y0) / H])


def style(ax, xlim, ylim, xt, yt):
    ax.set_xlim(xlim)
    ax.set_ylim(ylim)
    ax.set_xticks(xt)
    ax.set_yticks(yt)
    ax.xaxis.set_major_formatter(FormatStrFormatter('%g'))
    ax.yaxis.set_major_formatter(FormatStrFormatter('%g'))
    ax.grid(True, color='black', linestyle=(0, (1, 5)), linewidth=0.9)
    ax.set_axisbelow(True)
    ax.tick_params(direction='in', length=5, width=0.8, top=True, right=True,
                   labelsize=24, pad=8, colors='black')
    ax.tick_params(axis='x', pad=10)
    for s in ax.spines.values():
        s.set_linewidth(0.9)


mk = dict(marker='D', linestyle='none', markersize=5.0, markeredgewidth=0.6)

ax1 = px_axes(159, 419, 67, 655)
ax1.plot(awac_east, aqua_east, color='#0000ff', **mk)
ax1.axline((0, 0), slope=1, color='black', linewidth=0.8)
style(ax1, (-0.6, 0.6), (-0.6, 0.6), east_ticks, speed_ticks)
ax1.set_title('Bottom: East', fontsize=24, pad=22)
ax1.set_xlabel('AWAC (m/s)', fontsize=24, labelpad=5)
ax1.set_ylabel('Aquadopp (m/s)', fontsize=24, labelpad=7)

ax2 = px_axes(571, 832, 67, 655)
ax2.plot(awac_north, aqua_north, color='#0000ff', **mk)
ax2.axline((0, 0), slope=1, color='black', linewidth=0.8)
style(ax2, (-0.3, 0.3), (-0.3, 0.3), north_x_ticks, north_y_ticks)
ax2.set_title('Bottom: North', fontsize=24, pad=22)
ax2.set_xlabel('AWAC (m/s)', fontsize=24, labelpad=5)
ax2.set_ylabel('Aquadopp (m/s)', fontsize=24, labelpad=7)

ax3 = px_axes(1025, 1736, 69, 655)
ax3.plot(awac_east, awac_north, color='#0000ff', label='AWAC', **mk)
ax3.plot(aqua_east, aqua_north, color='#ff0000', label='Aquadopp', **mk)
style(ax3, (-0.6, 0.6), (-0.6, 0.6), comp_x_ticks, speed_ticks)
ax3.set_title('Bottom Current Comparison', fontsize=24, pad=22)
ax3.set_xlabel('East (m/s)', fontsize=24, labelpad=5)
ax3.set_ylabel('North (m/s)', fontsize=24, labelpad=7)
leg = ax3.legend(loc='lower right', fontsize=24, fancybox=False, framealpha=1,
                 edgecolor='black', borderaxespad=0.35, handlelength=1.2,
                 handletextpad=1.2, borderpad=0.3, labelspacing=0.3, markerscale=0.62)
leg.get_frame().set_linewidth(0.9)

fig.savefig('out.png', dpi=100, facecolor=bg)
